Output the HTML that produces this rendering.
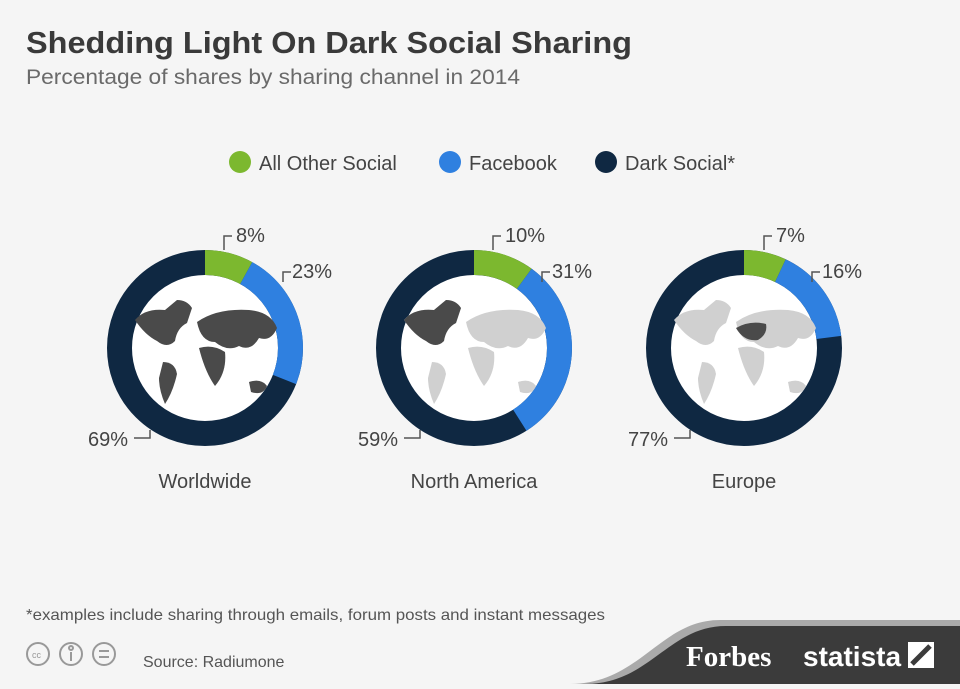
<!DOCTYPE html>
<html><head><meta charset="utf-8"><style>
body{margin:0;width:960px;height:684px;overflow:hidden;background:#f5f5f5;font-family:"Liberation Sans",sans-serif}
</style></head><body>
<svg width="960" height="684" xmlns="http://www.w3.org/2000/svg" font-family="Liberation Sans, sans-serif">
<rect width="960" height="684" fill="#f5f5f5"/>
<text x="26" y="53" font-size="31" font-weight="bold" fill="#3a3a3a" textLength="606" lengthAdjust="spacingAndGlyphs">Shedding Light On Dark Social Sharing</text>
<text x="26" y="84" font-size="21" fill="#6a6a6a" textLength="494" lengthAdjust="spacingAndGlyphs">Percentage of shares by sharing channel in 2014</text>
<g font-size="20" fill="#444">
<circle cx="240" cy="162" r="11" fill="#7cb82f"/><text x="259" y="170">All Other Social</text>
<circle cx="450" cy="162" r="11" fill="#2f80e0"/><text x="469" y="170">Facebook</text>
<circle cx="606" cy="162" r="11" fill="#0f2842"/><text x="625" y="170">Dark Social*</text>
</g>
<defs>
<g id="map">
<path d="M-70,-30 q10,-12 30,-10 l12,-10 q10,0 15,8 l-5,15 q-10,5 -12,18 q-8,8 -18,0 q-12,-6 -22,-21z"/>
<path d="M-42,12 q12,0 14,12 q-4,18 -12,30 q-6,-14 -6,-26z"/>
<path d="M-8,-28 q20,-14 52,-12 q22,2 28,18 q-6,14 -18,10 q-8,14 -20,8 q-12,6 -24,-4 q-14,0 -18,-20z"/>
<path d="M-6,-2 q14,-4 26,4 q2,20 -10,34 q-10,-14 -16,-38z"/>
<path d="M44,32 q12,-4 18,4 q-4,10 -16,6z"/>
</g>
</defs>
<g fill="none" stroke-width="25">
<g transform="translate(205,348) rotate(-90)">
<circle r="85.5" fill="#fff" stroke="#0f2842"/>
<circle r="85.5" stroke="#7cb82f" stroke-dasharray="43 1000"/>
<circle r="85.5" stroke="#2f80e0" stroke-dasharray="123.5 1000" stroke-dashoffset="-43"/>
</g>
<g transform="translate(474,348) rotate(-90)">
<circle r="85.5" fill="#fff" stroke="#0f2842"/>
<circle r="85.5" stroke="#7cb82f" stroke-dasharray="53.7 1000"/>
<circle r="85.5" stroke="#2f80e0" stroke-dasharray="166.5 1000" stroke-dashoffset="-53.7"/>
</g>
<g transform="translate(744,348) rotate(-90)">
<circle r="85.5" fill="#fff" stroke="#0f2842"/>
<circle r="85.5" stroke="#7cb82f" stroke-dasharray="37.6 1000"/>
<circle r="85.5" stroke="#2f80e0" stroke-dasharray="86 1000" stroke-dashoffset="-37.6"/>
</g>
</g>
<g transform="translate(205,350)" fill="#4a4a4a"><use href="#map"/></g>
<g transform="translate(474,350)" fill="#d0d0d0"><use href="#map"/><path d="M-70,-30 q10,-12 30,-10 l12,-10 q10,0 15,8 l-5,15 q-10,5 -12,18 q-8,8 -18,0 q-12,-6 -22,-21z" fill="#4a4a4a"/></g>
<g transform="translate(744,350)" fill="#d0d0d0"><use href="#map"/><path d="M-8,-22 q14,-8 30,-4 q2,10 -8,16 q-14,2 -22,-12z" fill="#4a4a4a"/></g>
<g stroke="#555" stroke-width="1.5" fill="none">
<path d="M224,250 v-14 h8"/><path d="M283,282 v-10 h8"/><path d="M134,438 h16 v-8"/>
<path d="M493,250 v-14 h8"/><path d="M542,282 v-10 h8"/><path d="M404,438 h16 v-8"/>
<path d="M764,250 v-14 h8"/><path d="M812,282 v-10 h8"/><path d="M674,438 h16 v-8"/>
</g>
<g font-size="20" fill="#444">
<text x="236" y="242">8%</text><text x="292" y="278">23%</text><text x="128" y="446" text-anchor="end">69%</text>
<text x="505" y="242">10%</text><text x="552" y="278">31%</text><text x="398" y="446" text-anchor="end">59%</text>
<text x="776" y="242">7%</text><text x="822" y="278">16%</text><text x="668" y="446" text-anchor="end">77%</text>
<text x="205" y="488" text-anchor="middle">Worldwide</text>
<text x="474" y="488" text-anchor="middle">North America</text>
<text x="744" y="488" text-anchor="middle">Europe</text>
</g>
<text x="26" y="620" font-size="16" fill="#555" textLength="579" lengthAdjust="spacingAndGlyphs">*examples include sharing through emails, forum posts and instant messages</text>
<g stroke="#999" stroke-width="2" fill="none"><circle cx="38" cy="654" r="11"/><circle cx="71" cy="654" r="11"/><circle cx="104" cy="654" r="11"/>
<path d="M99,651 h10 M99,657 h10"/><circle cx="71" cy="648" r="2"/><path d="M71,652 v9"/></g>
<text x="32" y="658" font-size="9" fill="#999">cc</text>
<text x="143" y="667" font-size="16" fill="#555">Source: Radiumone</text>
<path d="M570,684 C640,684 660,620 720,620 L960,620 L960,684Z" fill="#aaa"/>
<path d="M585,684 C650,684 668,626 726,626 L960,626 L960,684Z" fill="#3b3b3b"/>
<text x="686" y="666" font-family="Liberation Serif, serif" font-weight="bold" font-size="29" fill="#fff">Forbes</text>
<text x="803" y="666" font-weight="bold" font-size="28" fill="#fff">statista</text>
<path d="M908,642 h26 v26 h-26z" fill="#fff"/><path d="M912,664 l18,-18" stroke="#3b3b3b" stroke-width="5"/>
</svg>
</body></html>
